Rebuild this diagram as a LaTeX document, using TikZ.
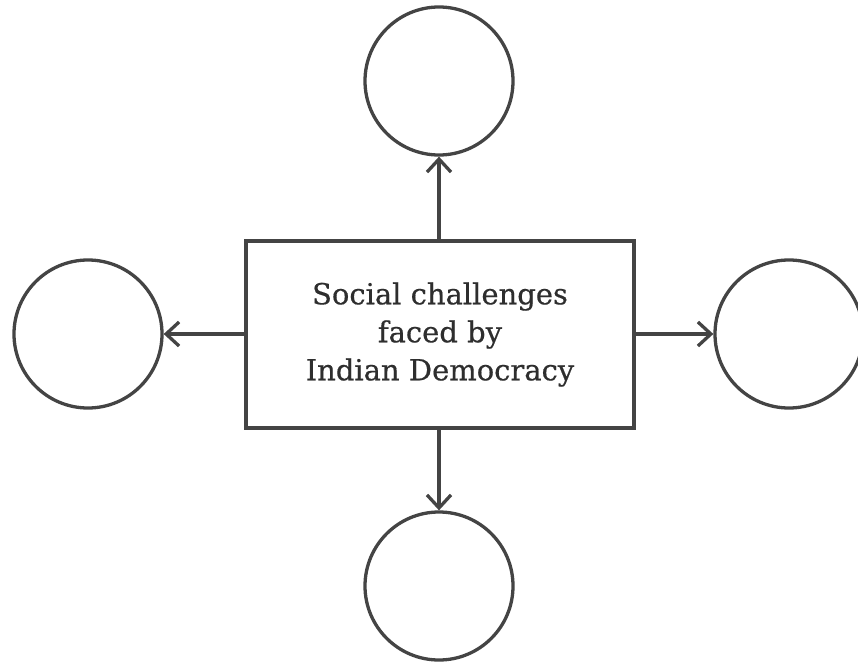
\documentclass[tikz,border=0pt]{standalone}
\usepackage{fontspec}
\newfontfamily\labelfont[FakeBold=0.5]{DejaVu Serif}
\usetikzlibrary{arrows.meta}
\definecolor{ink}{HTML}{444444}
\definecolor{txt}{HTML}{2E2E2E}
\begin{document}
\begin{tikzpicture}[x=1pt,y=-1pt,
  bubble/.style={circle,draw=ink,line width=3.3pt,minimum size=148pt,inner sep=0pt},
  mainbox/.style={rectangle,draw=ink,line width=3.3pt,minimum width=388pt,minimum height=187pt,inner sep=0pt,align=center,
     text=txt,font=\labelfont\fontsize{29}{38}\selectfont},
  link/.style={draw=ink,line width=3.3pt,-{Straight Barb[length=13pt,width=24pt,line width=3.3pt]}}]
\useasboundingbox (0,0) rectangle (858,661);
\node[mainbox] (c) at (440,334.5) {Social challenges\\faced by\\Indian Democracy};
\node[bubble] (t) at (439,81) {};
\node[bubble] (b) at (439,586) {};
\node[bubble] (l) at (88,334) {};
\node[bubble] (r) at (789,334) {};
\draw[link] (c.north -| t) -- (t.south);
\draw[link] (c.south -| b) -- (b.north);
\draw[link] (c.west |- l) -- (l.east);
\draw[link] (c.east |- r) -- (r.west);
\end{tikzpicture}
\end{document}
